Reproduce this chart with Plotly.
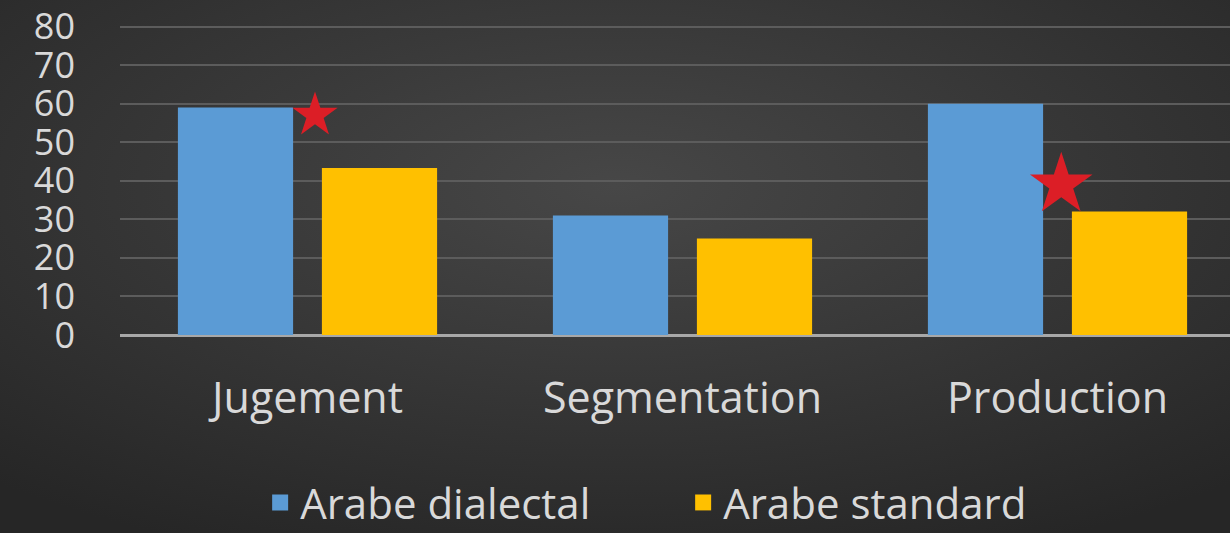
import plotly.graph_objects as go

categories = ["Jugement", "Segmentation", "Production"]
arabe_dialectal = [59, 31, 60]
arabe_standard = [43.3, 25, 32]
y_ticks = [0, 10, 20, 30, 40, 50, 60, 70, 80]

# significance stars (numeric category positions)
star_x = [0.02, 2.01]
star_y = [57, 39]
star_size = [34, 47]

blue = "#5b9bd5"
yellow = "#ffc000"
font_family = "Open Sans, Noto Sans, sans-serif"
text_color = "#d9d9d9"

bg_svg = (
    "data:image/svg+xml;utf8,"
    "<svg xmlns='http://www.w3.org/2000/svg' width='1230' height='533' preserveAspectRatio='none'>"
    "<defs><radialGradient id='g' cx='50%' cy='35%' r='75%'>"
    "<stop offset='0%' stop-color='%23474747'/>"
    "<stop offset='100%' stop-color='%23262626'/>"
    "</radialGradient></defs>"
    "<rect width='1230' height='533' fill='url(%23g)'/></svg>"
)

x_pos = list(range(len(categories)))

fig = go.Figure()
fig.add_trace(go.Bar(x=x_pos, y=arabe_dialectal, name="Arabe dialectal", showlegend=False,
                     marker=dict(color=blue, line=dict(width=0))))
fig.add_trace(go.Bar(x=x_pos, y=arabe_standard, name="Arabe standard", showlegend=False,
                     marker=dict(color=yellow, line=dict(width=0))))
# legend entries with larger square symbols
for nm, col in [("Arabe dialectal", blue), ("Arabe standard", yellow)]:
    fig.add_trace(go.Scatter(x=[None], y=[None], mode="markers", name=nm,
                             marker=dict(symbol="square", size=16, color=col)))
fig.add_trace(go.Scatter(x=star_x, y=star_y, mode="markers", showlegend=False,
                         hoverinfo="skip",
                         marker=dict(symbol="star", size=star_size, color="#dc1e26",
                                     opacity=1, line=dict(width=0))))

fig.update_layout(
    width=1230, height=533,
    margin=dict(l=120, r=0, t=25, b=198),
    paper_bgcolor="#363636",
    plot_bgcolor="rgba(0,0,0,0)",
    barmode="group",
    bargap=0.232,
    bargroupgap=0.2,
    font=dict(family=font_family, color=text_color),
    images=[dict(source=bg_svg, xref="paper", yref="paper",
                 x=-120/1110, y=1+25/310, sizex=1230/1110, sizey=533/310,
                 xanchor="left", yanchor="top",
                 layer="below", sizing="stretch")],
    showlegend=True,
    legend=dict(orientation="h", xref="container", yref="container",
                x=0.2115, y=0.057, xanchor="left", yanchor="middle",
                font=dict(size=42, color=text_color, family=font_family),
                bgcolor="rgba(0,0,0,0)", itemwidth=30, tracegroupgap=0,
                entrywidth=378, entrywidthmode="pixels"),
)

fig.update_xaxes(
    range=[-0.5, 2.46],
    tickvals=x_pos, ticktext=categories,
    tickfont=dict(size=43, color=text_color),
    showgrid=False, zeroline=False, showline=False,
    ticks="", ticklabelstandoff=34,
)
fig.update_yaxes(
    range=[0, 80.4],
    tickvals=y_ticks,
    tickfont=dict(size=36, color=text_color),
    showgrid=True, gridcolor="#5c5c5c", gridwidth=2,
    zeroline=True, zerolinecolor="#a8a8a8", zerolinewidth=3,
    showline=False, ticks="", ticklabelstandoff=44,
)

fig.write_html("out.html", config={"displayModeBar": False},
               post_script="document.body.style.margin='0';document.body.style.overflow='hidden';")
